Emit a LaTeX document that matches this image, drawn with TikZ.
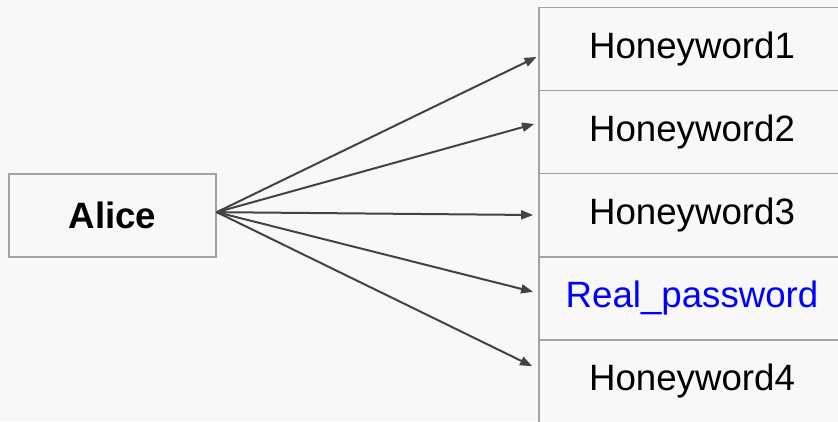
\documentclass[tikz,border=0pt]{standalone}
\usepackage{fontspec}
\setmainfont{Liberation Sans}
\usetikzlibrary{arrows.meta}
\definecolor{pagebg}{HTML}{F8F8F8}
\definecolor{boxline}{HTML}{A3A3A3}
\definecolor{arrowcol}{HTML}{434343}
\definecolor{realblue}{HTML}{0000FF}
\begin{document}
\begin{tikzpicture}[x=0.75pt,y=-0.75pt,
  box/.style={draw=boxline,line width=1.3pt,fill=pagebg,rectangle,inner sep=0pt,
    font=\fontsize{27.5}{33}\selectfont},
  cell/.style={box,minimum width=229.5pt,minimum height=62.4pt},
  link/.style={draw=arrowcol,line width=1.5pt,-{Triangle[length=9pt,width=6.8pt]}}]
  % page and its extent
  \fill[pagebg] (0,0) rectangle (838,421);
  \useasboundingbox (0,0) rectangle (838,421);
  % sender
  \node[box,minimum width=155pt,minimum height=62pt] (alice) at (112.5,215.5) {\textbf{Alice}};
  % column of stored entries
  \node[cell] (hw1) at (692,49) {Honeyword1};
  \node[cell] (hw2) at (692,132) {Honeyword2};
  \node[cell] (hw3) at (692,215) {Honeyword3};
  \node[cell,text=realblue] (real) at (692,298.5) {Real\_password};
  \node[cell] (hw4) at (692,381.5) {Honeyword4};
  % arrow start and end points
  \coordinate (s) at ([yshift=2.5pt]alice.east);
  \coordinate (t1) at ([xshift=-1.2pt,yshift=-6pt]hw1.west);
  \coordinate (t2) at ([xshift=-3pt,yshift=6pt]hw2.west);
  \coordinate (t3) at ([xshift=-3.8pt]hw3.west);
  \coordinate (t4) at ([xshift=-3.8pt,yshift=5pt]real.west);
  \coordinate (t5) at ([xshift=-4.5pt,yshift=11.5pt]hw4.west);
  \foreach \t in {t1,t2,t3,t4,t5}
    \draw[link] (s) -- (\t);
\end{tikzpicture}
\end{document}
